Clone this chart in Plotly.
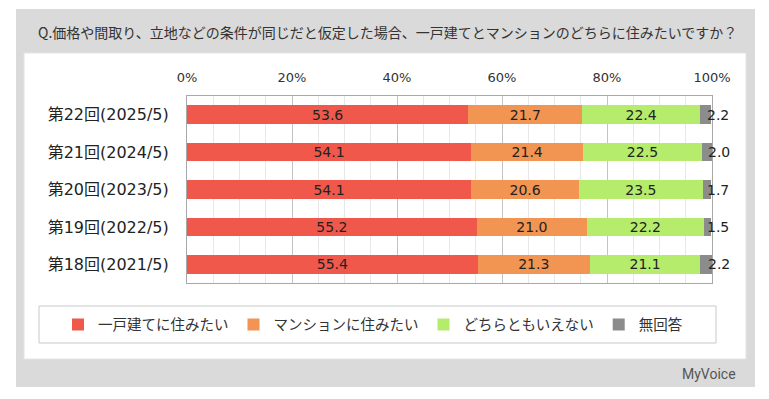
import plotly.graph_objects as go

categories = ["第22回(2025/5)", "第21回(2024/5)", "第20回(2023/5)", "第19回(2022/5)", "第18回(2021/5)"]
series_names = ["一戸建てに住みたい", "マンションに住みたい", "どちらともいえない", "無回答"]
detached = [53.6, 54.1, 54.1, 55.2, 55.4]
condo = [21.7, 21.4, 20.6, 21.0, 21.3]
neither = [22.4, 22.5, 23.5, 22.2, 21.1]
no_answer = [2.2, 2.0, 1.7, 1.5, 2.2]
tick_vals = [0, 20, 40, 60, 80, 100]
tick_text = ["0%", "20%", "40%", "60%", "80%", "100%"]
title_text = "Q.価格や間取り、立地などの条件が同じだと仮定した場合、一戸建てとマンションのどちらに住みたいですか？"

W, H = 769, 399
FONT = "DejaVu Sans, Noto Sans CJK JP, sans-serif"
JFONT = "Noto Sans CJK JP, sans-serif"

def px(x):
    return x / W

def py(y):
    return 1 - y / H

colors = ["#f0584c", "#f29452", "#b6ec6c", "#8c8c8c"]
series = [detached, condo, neither, no_answer]

fig = go.Figure()
for name, vals, col in zip(series_names, series, colors):
    is_last = name == "無回答"
    fig.add_trace(go.Bar(
        y=categories, x=vals, name=name, orientation="h",
        marker=dict(color=col, line=dict(width=0)),
        width=0.5,
        text=[f"{v:.1f}" for v in vals],
        textposition="none" if is_last else "inside",
        insidetextanchor="middle",
        textangle=0,
        textfont=dict(family=FONT, size=14, color="#222222"),
        hoverinfo="x+name",
    ))

# labels for the last (thin) segment, placed just beyond the stack end
totals = [round(min(a + b + c + d, 100.0), 1) for a, b, c, d in zip(detached, condo, neither, no_answer)]
for cat, tot, v in zip(categories, totals, no_answer):
    fig.add_annotation(x=tot, y=cat, xref="x", yref="y", text=f"{v:.1f}",
                       showarrow=False, xanchor="center", xshift=7,
                       font=dict(family=FONT, size=14, color="#222222"))

shapes = [
    dict(type="rect", xref="paper", yref="paper", x0=px(16), x1=px(755), y0=py(387), y1=py(9),
         fillcolor="#dadada", line=dict(width=0), layer="below"),
    dict(type="rect", xref="paper", yref="paper", x0=px(24), x1=px(746), y0=py(359), y1=py(53),
         fillcolor="#ffffff", line=dict(color="#e4e4e4", width=1), layer="below"),
    dict(type="rect", xref="paper", yref="paper", x0=px(39), x1=px(716), y0=py(343), y1=py(306),
         fillcolor="#ffffff", line=dict(color="#c8c8c8", width=1), layer="below"),
]

fig.add_annotation(x=px(36), y=py(32), xref="paper", yref="paper", text=title_text,
                   showarrow=False, xanchor="left", yanchor="middle",
                   font=dict(family=JFONT, size=14, color="#333333"))
fig.add_annotation(x=px(709), y=py(374), xref="paper", yref="paper", text="MyVoice",
                   showarrow=False, xanchor="center", yanchor="middle",
                   font=dict(family="Liberation Sans Narrow, Roboto, sans-serif", size=14, color="#555555"))

fig.update_layout(
    width=W, height=H,
    margin=dict(l=0, r=0, t=0, b=0, autoexpand=False),
    paper_bgcolor="#ffffff", plot_bgcolor="#ffffff",
    barmode="stack", bargap=0.5,
    shapes=shapes,
    uniformtext=dict(minsize=14, mode="show"),
    showlegend=True,
    legend=dict(orientation="h", x=px(58), xanchor="left", y=py(324.5), yanchor="middle",
                font=dict(family=JFONT, size=14.5, color="#333333"),
                bgcolor="rgba(0,0,0,0)", borderwidth=0, itemwidth=30,
                traceorder="normal"),
    xaxis=dict(domain=[px(187), px(712)], range=[0, 100], side="top", automargin=False,
               tickvals=tick_vals, ticktext=tick_text, ticks="", ticklabelstandoff=8,
               tickfont=dict(family=FONT, size=13, color="#333333"),
               showgrid=True, gridcolor="#c4c4c4", gridwidth=1,
               minor=dict(dtick=5, showgrid=True, gridcolor="#e8e8e8", gridwidth=1),
               showline=True, linecolor="#a8a8a8", linewidth=1, mirror=True,
               zeroline=False, fixedrange=True),
    yaxis=dict(domain=[py(283), py(96)], autorange="reversed", automargin=False,
               tickfont=dict(family=FONT, size=16, color="#222222"),
               ticks="", ticklabelstandoff=14,
               showline=True, linecolor="#a8a8a8", linewidth=1, mirror=True,
               showgrid=False, fixedrange=True),
)

fig.write_html("out.html", config={"displayModeBar": False},
               post_script="document.body.style.margin='0';document.body.style.overflow='hidden';")
